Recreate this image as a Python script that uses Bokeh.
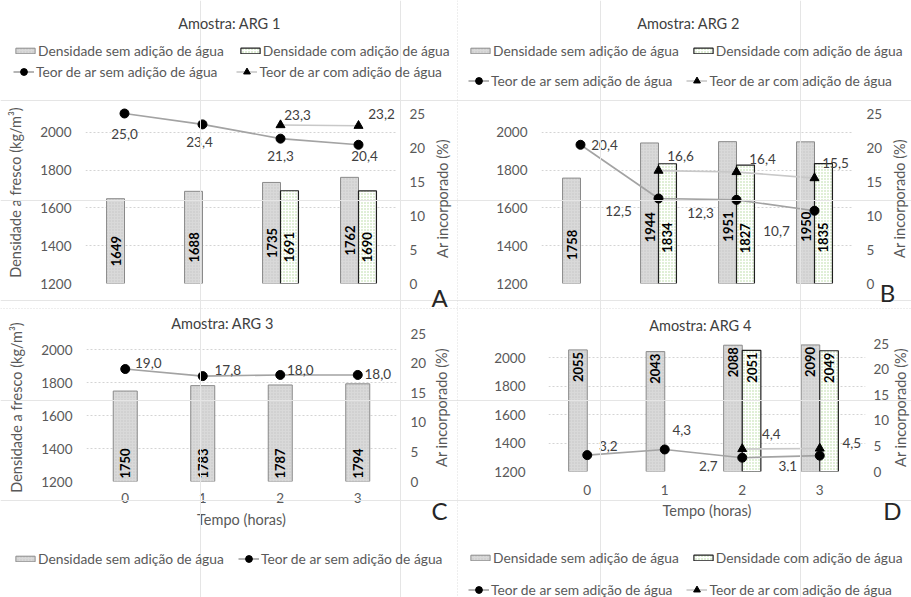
import math
from bokeh.plotting import figure
from bokeh.models import (Range1d, LinearAxis, Legend, LegendItem, Label, LabelSet,
                          ColumnDataSource, GridBox, Span)
from bokeh.layouts import column, row
from bokeh.core.properties import value
from bokeh.embed import file_html
from bokeh.resources import INLINE

# ---------------- data ----------------
tempo = [0, 1, 2, 3]
dens_ticks = [1200, 1400, 1600, 1800, 2000]
ar_ticks = [0, 5, 10, 15, 20, 25]

arg1_dens_sem = [1649, 1688, 1735, 1762]
arg1_dens_com = [None, None, 1691, 1690]
arg1_ar_sem = [25.0, 23.4, 21.3, 20.4]
arg1_ar_com = [None, None, 23.3, 23.2]

arg2_dens_sem = [1758, 1944, 1951, 1950]
arg2_dens_com = [None, 1834, 1827, 1835]
arg2_ar_sem = [20.4, 12.5, 12.3, 10.7]
arg2_ar_com = [None, 16.6, 16.4, 15.5]

arg3_dens_sem = [1750, 1783, 1787, 1794]
arg3_dens_com = [None, None, None, None]
arg3_ar_sem = [19.0, 17.8, 18.0, 18.0]
arg3_ar_com = [None, None, None, None]

arg4_dens_sem = [2055, 2043, 2088, 2090]
arg4_dens_com = [None, None, 2051, 2049]
arg4_ar_sem = [3.2, 4.3, 2.7, 3.1]
arg4_ar_com = [None, None, 4.4, 4.5]

lbl_dens_sem = "Densidade sem adição de água"
lbl_dens_com = "Densidade com adição de água"
lbl_ar_sem = "Teor de ar sem adição de água"
lbl_ar_com = "Teor de ar com adição de água"
lbl_y_left = "Densidade a fresco (kg/m³)"
lbl_y_right = "Ar incorporado (%)"
lbl_x = "Tempo (horas)"

# ---------------- style ----------------
FONT = "Lato"
C_TXT = "#595959"
C_DARK = "#404040"
DENS_MIN, DENS_MAX = 1200, 2100
AR_MIN, AR_MAX = 0, 25
X_MIN, X_MAX = -0.5, 3.5
TOTAL_W, TOTAL_H = 911, 597
NAN = float("nan")

SEM_BAR = dict(fill_color="#d9d9d9", line_color="#8a8a8a", line_width=1,
               hatch_pattern="dot", hatch_color="#c4c4c4", hatch_scale=3, hatch_weight=1)
COM_BAR = dict(fill_color="white", line_color="#1f1f1f", line_width=1.2,
               hatch_pattern="dot", hatch_color="#b2d69b", hatch_scale=3, hatch_weight=1)
SEM_LINE = dict(line_color="#a3a3a3", line_width=1.6)
COM_LINE = dict(line_color="#c8c8c8", line_width=1.6)
SEM_MK = dict(marker="circle", size=9, fill_color="black", line_color="black")
COM_MK = dict(marker="triangle", size=9, fill_color="black", line_color="black")


def fmt(v):
    return f"{v:.1f}".replace(".", ",")


panels = [
    dict(title="Amostra: ARG 1", letter="A", sem=arg1_dens_sem, com=arg1_dens_com,
         ar_sem=arg1_ar_sem, ar_com=arg1_ar_com,
         box=(0, 0, 457, 308), frame=(85, 113, 397, 283), head=12, tail=0, xaxis=False, ytitle=True,
         title_at=(229, 23), letter_at=(439, 297), rtitle_at=(442, 198),
         bw=0.23, dodge=True, mode="mid", boff=10,
         lbl_sem=[(0, 20), (-3, 18), (0, 17), (6, 11)], lbl_com=[None, None, (17, -10), (23, -12)],
         ls=(14, 13), rs=12, bs=None,
         legend=[(["bs", "bc"], "bar", 13, 52, 14), (["ls", "lc"], "line", 13, 71, 19)]),
    dict(title="Amostra: ARG 2", letter="B", sem=arg2_dens_sem, com=arg2_dens_com,
         ar_sem=arg2_ar_sem, ar_com=arg2_ar_com,
         box=(457, 0, 454, 308), frame=(541, 113, 853, 283), head=0, tail=0, xaxis=False, ytitle=False,
         title_at=(688, 23), letter_at=(887, 292), rtitle_at=(899, 198),
         bw=0.23, dodge=True, mode="mid", boff=14,
         lbl_sem=[(24, 0), (-40, 12), (-36, 13), (-38, 20)], lbl_com=[None, (22, -15), (26, -13), (21, -15)],
         ls=(14, 12), rs=13, bs=None,
         legend=[(["bs", "bc"], "bar", 468, 52, 12), (["ls", "lc"], "line", 468, 80, 14)]),
    dict(title="Amostra: ARG 3", letter="C", sem=arg3_dens_sem, com=arg3_dens_com,
         ar_sem=arg3_ar_sem, ar_com=arg3_ar_com,
         box=(0, 308, 457, 289), frame=(86, 333, 396, 481), head=0, tail=0, xaxis=True, ytitle=True,
         title_at=(222, 323), letter_at=(439, 510), rtitle_at=(441, 407),
         bw=0.31, dodge=False, mode="base", boff=3,
         lbl_sem=[(23, -6), (25, -6), (20, -5), (20, -1)], lbl_com=[None, None, None, None],
         ls=(14, 13), rs=14, bs=(11, 5),
         legend=[(["bs"], "bar", 13, 560, 10), (["ls"], "line", 238, 558, 10)]),
    dict(title="Amostra: ARG 4", letter="D", sem=arg4_dens_sem, com=arg4_dens_com,
         ar_sem=arg4_ar_sem, ar_com=arg4_ar_com,
         box=(457, 308, 454, 289), frame=(548, 343, 858, 471), head=0, tail=7, xaxis=True, ytitle=False,
         title_at=(700, 325), letter_at=(892, 510), rtitle_at=(900, 407),
         bw=0.24, dodge=True, mode="end", boff=2,
         lbl_sem=[(21, -9), (17, -19), (-34, 8), (-32, 10)], lbl_com=[None, None, (29, -15), (32, -5)],
         ls=(23, 12), rs=15, bs=(13, 4),
         legend=[(["bs", "bc"], "bar", 468, 559, 12), (["ls", "lc"], "line", 468, 589, 14)]),
]


def style_axis(ax, ms, ls_=0):
    ax.axis_line_color = None
    ax.major_tick_line_color = None
    ax.minor_tick_line_color = None
    ax.major_tick_out = 0
    ax.major_tick_in = 0
    ax.major_label_standoff = ms
    ax.axis_label_standoff = ls_
    ax.major_label_text_font = FONT
    ax.major_label_text_font_size = "13.5px"
    ax.major_label_text_color = C_TXT
    ax.axis_label_text_font = FONT
    ax.axis_label_text_font_size = "14.5px"
    ax.axis_label_text_font_style = "normal"
    ax.axis_label_text_color = C_TXT


def make_panel(cfg):
    ox, oy, W, H = cfg["box"]
    L, T, R, B = cfg["frame"]
    head, tail = cfg["head"], cfg["tail"]
    fh, fw = B - T, R - L
    dens_top = DENS_MAX + head * (DENS_MAX - DENS_MIN) / fh
    ar_top = AR_MAX + head * (AR_MAX - AR_MIN) / fh
    x_end = X_MAX + tail * (X_MAX - X_MIN) / fw
    p = figure(width=W, height=H, output_backend="svg", toolbar_location=None, title=None,
               x_range=Range1d(X_MIN, x_end), y_range=Range1d(DENS_MIN, dens_top),
               min_border_left=L - ox, min_border_right=ox + W - R - tail,
               min_border_top=T - head - oy, min_border_bottom=oy + H - B,
               x_axis_location="below" if cfg["xaxis"] else None)
    if "frame_align" in p.properties():
        p.frame_align = False
    p.extra_y_ranges = {"ar": Range1d(AR_MIN, ar_top)}
    p.outline_line_color = None
    p.border_fill_color = "white"
    p.background_fill_color = "white"
    p.xgrid.visible = False
    p.ygrid.grid_line_color = "#d4d4d4"
    p.ygrid.grid_line_dash = "2 2"
    p.ygrid.grid_line_width = 1

    yl = p.yaxis[0]
    yl.ticker = dens_ticks
    style_axis(yl, *cfg["ls"])
    if cfg["ytitle"]:
        yl.axis_label = lbl_y_left

    yr = LinearAxis(y_range_name="ar", ticker=ar_ticks)
    style_axis(yr, cfg["rs"] - tail)
    p.add_layout(yr, "right")

    if cfg["xaxis"]:
        xa = p.xaxis[0]
        xa.ticker = tempo
        xa.axis_label = lbl_x
        style_axis(xa, *cfg["bs"])

    bw = cfg["bw"]
    off = bw / 2 if cfg["dodge"] else 0

    def bar_src(vals, shift):
        xs, tops, ys, txt = [], [], [], []
        for t, v in zip(tempo, vals):
            if v is None:
                continue
            xs.append(t + shift)
            tops.append(v)
            txt.append(str(v))
            if cfg["mode"] == "mid":
                ys.append((DENS_MIN + v) / 2)
            elif cfg["mode"] == "base":
                ys.append(DENS_MIN)
            else:
                ys.append(v)
        return ColumnDataSource(dict(x=xs, top=tops, ly=ys, txt=txt))

    srcs = [bar_src(cfg["sem"], -off)]
    p.vbar(x="x", top="top", bottom=DENS_MIN, width=bw, source=srcs[0], **SEM_BAR)
    if any(v is not None for v in cfg["com"]):
        srcs.append(bar_src(cfg["com"], off))
        p.vbar(x="x", top="top", bottom=DENS_MIN, width=bw, source=srcs[1], **COM_BAR)

    align = {"mid": "center", "base": "left", "end": "right"}[cfg["mode"]]
    yoff = {"mid": cfg["boff"], "base": -cfg["boff"], "end": cfg["boff"]}[cfg["mode"]]
    for src in srcs:
        p.text(x="x", y="ly", text="txt", source=src, angle=math.pi / 2,
               text_align=align, text_baseline="middle", y_offset=yoff,
               text_font=value(FONT), text_font_style="bold", text_font_size="13px",
               text_color="black")

    def line_src(vals, offs):
        xs, ys, txt, dx, dy = [], [], [], [], []
        for t, v, o in zip(tempo, vals, offs):
            if v is None:
                continue
            xs.append(t)
            ys.append(v)
            txt.append(fmt(v))
            dx.append(o[0])
            dy.append(-o[1])
        return ColumnDataSource(dict(x=xs, y=ys, txt=txt, dx=dx, dy=dy))

    for vals, offs, lst, mst in ((cfg["ar_sem"], cfg["lbl_sem"], SEM_LINE, SEM_MK),
                                 (cfg["ar_com"], cfg["lbl_com"], COM_LINE, COM_MK)):
        if not any(v is not None for v in vals):
            continue
        src = line_src(vals, offs)
        p.line(x="x", y="y", source=src, y_range_name="ar", **lst)
        p.scatter(x="x", y="y", source=src, y_range_name="ar", **mst)
        p.add_layout(LabelSet(x="x", y="y", text="txt", source=src, y_range_name="ar",
                              x_offset="dx", y_offset="dy", text_align="center", text_baseline="middle",
                              text_font=value(FONT), text_font_size="13.5px", text_color=C_DARK))
    return p


figs = [make_panel(c) for c in panels]
main = column(row(figs[0], figs[1]), row(figs[2], figs[3]))

# ---------- overlay: titles, legends, panel letters (pixel space of the page) ----------
ov = figure(width=TOTAL_W, height=TOTAL_H, output_backend="svg", toolbar_location=None, title=None,
            x_range=Range1d(0, TOTAL_W), y_range=Range1d(TOTAL_H, 0),
            x_axis_location=None, y_axis_location=None, min_border=0)
if "frame_align" in ov.properties():
    ov.frame_align = False
ov.outline_line_color = None
ov.background_fill_color = None
ov.border_fill_color = None

ov.add_layout(Span(location=457, dimension="height", line_color="#dcdcdc", line_dash="1 2", line_width=1))
ov.add_layout(Span(location=308, dimension="width", line_color="#dcdcdc", line_dash="1 2", line_width=1))

# legend-only renderers (no visible data) carrying the series styles
leg_r = {
    "bs": (lbl_dens_sem, [ov.vbar(x=[NAN], top=[NAN], bottom=0, width=1, **SEM_BAR)]),
    "bc": (lbl_dens_com, [ov.vbar(x=[NAN], top=[NAN], bottom=0, width=1, **COM_BAR)]),
    "ls": (lbl_ar_sem, [ov.line(x=[NAN, NAN], y=[NAN, NAN], **SEM_LINE),
                        ov.scatter(x=[NAN], y=[NAN], **SEM_MK)]),
    "lc": (lbl_ar_com, [ov.line(x=[NAN, NAN], y=[NAN, NAN], **COM_LINE),
                        ov.scatter(x=[NAN], y=[NAN], **COM_MK)]),
}

for cfg in panels:
    for keys, kind, left, center, spacing in cfg["legend"]:
        if kind == "bar":
            gw, gh, lh, std = 24, 7, 13, 1
        else:
            gw, gh, lh, std = 21, 17, 17, 2
        lg = Legend(items=[LegendItem(label=leg_r[k][0], renderers=leg_r[k][1]) for k in keys],
                    location=(left, TOTAL_H - (center + lh / 2)), orientation="horizontal",
                    glyph_width=gw, glyph_height=gh, label_height=lh, label_standoff=std,
                    spacing=spacing, padding=0, margin=0,
                    background_fill_alpha=0, border_line_alpha=0,
                    label_text_font=FONT, label_text_font_size="13.8px", label_text_color=C_TXT)
        ov.add_layout(lg)
    tx, ty = cfg["title_at"]
    ov.add_layout(Label(x=tx, y=ty, text=cfg["title"], text_align="center", text_baseline="middle",
                        text_font=FONT, text_font_size="14.5px", text_color=C_DARK))
    lx, ly = cfg["letter_at"]
    ov.add_layout(Label(x=lx, y=ly, text=cfg["letter"], text_align="center", text_baseline="middle",
                        text_font=FONT, text_font_size="24px", text_color="#262626"))
    rx, ry = cfg["rtitle_at"]
    ov.add_layout(Label(x=rx, y=ry, text=lbl_y_right, angle=math.pi / 2, text_align="center",
                        text_baseline="middle", text_font=FONT, text_font_size="14.5px", text_color=C_TXT))

page = GridBox(children=[(main, 0, 0), (ov, 0, 0)])
open("out.html", "w").write(file_html(page, INLINE))
